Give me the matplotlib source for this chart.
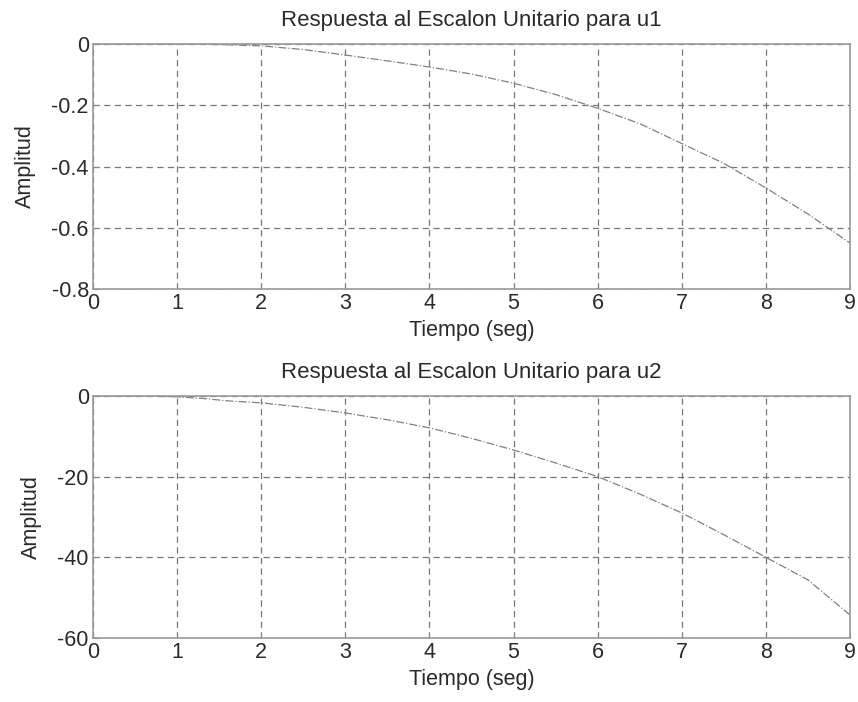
import matplotlib.pyplot as plt
from matplotlib.ticker import FormatStrFormatter

plt.rcParams['font.family'] = ['Liberation Sans', 'DejaVu Sans']
plt.rcParams['axes.unicode_minus'] = False

t1 = [0, 0.5, 1, 1.5, 2, 2.5, 3, 3.5, 4, 4.5, 5, 5.5, 6, 6.5, 7, 7.5, 8, 8.5, 9]
y1 = [0, 0, 0, -0.002, -0.006, -0.018, -0.036, -0.055, -0.075, -0.098, -0.128,
      -0.165, -0.21, -0.26, -0.325, -0.39, -0.47, -0.555, -0.65]

t2 = [0, 0.5, 1, 1.3, 1.6, 2, 2.5, 3, 3.5, 4, 4.5, 5, 5.5, 6, 6.5, 7, 7.5, 8, 8.5, 9]
y2 = [0, 0, -0.2, -0.6, -1.2, -1.7, -2.8, -4.2, -5.9, -7.9, -10.5, -13.4, -16.6,
      -20, -24.3, -29, -34.4, -40, -45.6, -54.3]

titles = ['Respuesta al Escalon Unitario para u1', 'Respuesta al Escalon Unitario para u2']
ylims = [(-0.8, 0), (-60, 0)]
yticks = [[-0.8, -0.6, -0.4, -0.2, 0], [-60, -40, -20, 0]]

fig = plt.figure(figsize=(8.58, 7.02), dpi=100)
ax1 = fig.add_axes([0.1084, 0.5883, 0.8823, 0.349])
ax2 = fig.add_axes([0.1084, 0.0912, 0.8823, 0.3447])

txt = '#2a2a2a'
for ax, t, y, ttl, yl, yt in zip([ax1, ax2], [t1, t2], [y1, y2], titles, ylims, yticks):
    ax.plot(t, y, color='#808080', linewidth=0.9, linestyle='-.')
    ax.set_xlim(0, 9)
    ax.set_ylim(*yl)
    ax.set_xticks(range(10))
    ax.set_yticks(yt)
    ax.yaxis.set_major_formatter(FormatStrFormatter('%g'))
    ax.grid(True, linestyle=(0, (5, 3.5)), color='#777777', linewidth=0.9)
    ax.tick_params(direction='in', length=4, color='#888888', labelsize=15.5,
                   labelcolor=txt, pad=3)
    for s in ax.spines.values():
        s.set_color('#999999')
        s.set_linewidth(1.2)
    ax.set_title(ttl, fontsize=16, color=txt, pad=13)
    ax.set_xlabel('Tiempo (seg)', fontsize=15.5, color=txt, labelpad=4)
    ax.set_ylabel('Amplitud', fontsize=15.5, color=txt, labelpad=11)

fig.savefig('out.png', dpi=100)
